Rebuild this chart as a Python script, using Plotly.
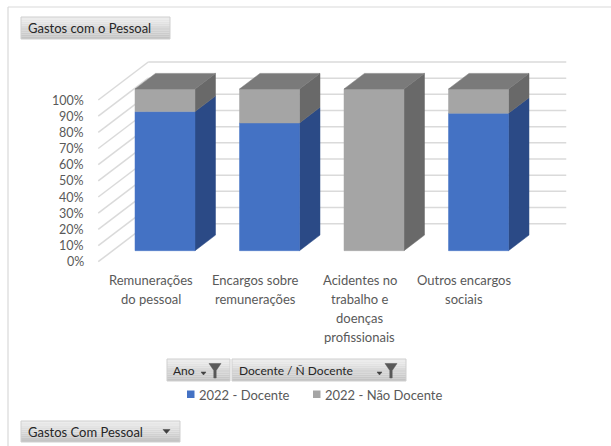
import plotly.graph_objects as go

# ---------------- data ----------------
categories = ["Remunerações\ndo pessoal", "Encargos sobre\nremunerações",
              "Acidentes no\ntrabalho e\ndoenças\nprofissionais", "Outros encargos\nsociais"]
docente = [86, 79, 0, 85]
nao_docente = [14, 21, 100, 15]
series_names = ["2022 - Docente", "2022 - Não Docente"]
y_ticks = [i / 10 for i in range(11)]
y_tick_labels = [f"{i*10}%" for i in range(11)]

# ---------------- styling / geometry ----------------
W, H = 611, 446
FONT = "Lato"
TXT = "#595959"
BLUE, BLUE_SIDE = "#4472C4", "#2B4A86"
GRAY, GRAY_SIDE, GRAY_TOP = "#A5A5A5", "#696969", "#7A7A7A"
GRID = "#DADADA"
DX, DY = 0.4785, 0.235      # full-depth oblique offset in data units
D1, D2 = 0.29, 0.70         # bar front/back depth
BW = 0.574                  # bar width
XR = [-150.5 / 104.5, (W - 150.5) / 104.5]
YR = [(261.7 - H) / 161.7, 261.7 / 161.7]

def px(x):
    return x / W

def py(y):
    return 1 - y / H

fig = go.Figure()

# ---- walls / gridlines ----
gx, gy = [], []
for v in y_ticks:
    gx += [-0.5 + DX, 3.5 + DX, None, -0.5, -0.5 + DX, None]
    gy += [v + DY, v + DY, None, v, v + DY, None]
fig.add_trace(go.Scatter(x=gx, y=gy, mode="lines", line=dict(color=GRID, width=1.5),
                         hoverinfo="skip", showlegend=False))

# ---- bars ----
n = len(categories)
tot = [d + g for d, g in zip(docente, nao_docente)]
fd = [d / t for d, t in zip(docente, tot)]
fg = [g / t for g, t in zip(nao_docente, tot)]

def poly(xs, ys, color):
    fig.add_trace(go.Scatter(x=xs + [xs[0]], y=ys + [ys[0]], mode="lines", fill="toself",
                             fillcolor=color, line=dict(color=color, width=0.5),
                             hoverinfo="skip", showlegend=False))

for i in range(n):
    xl, xr = i - BW / 2, i + BW / 2
    segs = [(0, fd[i], BLUE, BLUE_SIDE), (fd[i], fd[i] + fg[i], GRAY, GRAY_SIDE)]
    for a, b, cf, cs in segs:
        if b - a <= 0:
            continue
        # side face
        poly([xr + D1 * DX, xr + D2 * DX, xr + D2 * DX, xr + D1 * DX],
             [a + D1 * DY, a + D2 * DY, b + D2 * DY, b + D1 * DY], cs)
        # front face
        poly([xl + D1 * DX, xr + D1 * DX, xr + D1 * DX, xl + D1 * DX],
             [a + D1 * DY, a + D1 * DY, b + D1 * DY, b + D1 * DY], cf)
    top = fd[i] + fg[i]
    poly([xl + D1 * DX, xr + D1 * DX, xr + D2 * DX, xl + D2 * DX],
         [top + D1 * DY, top + D1 * DY, top + D2 * DY, top + D2 * DY], GRAY_TOP)

annotations = []
# y tick labels
for v, lab in zip(y_ticks, y_tick_labels):
    annotations.append(dict(x=-0.5, y=v, xref="x", yref="y", text=lab, showarrow=False,
                            xanchor="right", yanchor="middle", xshift=-12,
                            font=dict(family=FONT, size=12.5, color=TXT)))
# category labels
for i, c in enumerate(categories):
    for k, line in enumerate(c.split("\n")):
        annotations.append(dict(x=i, y=0, xref="x", yref="y", text=line, showarrow=False,
                                xanchor="center", yanchor="middle", yshift=-(18.5 + 19 * k),
                                font=dict(family=FONT, size=13, color=TXT)))

shapes = []
# outer border (top + left)
shapes.append(dict(type="line", xref="paper", yref="paper", x0=px(8), y0=py(7), x1=px(W + 2), y1=py(7),
                   line=dict(color="#D9D9D9", width=1.2)))
shapes.append(dict(type="line", xref="paper", yref="paper", x0=px(8), y0=py(7), x1=px(8), y1=py(H + 2),
                   line=dict(color="#D9D9D9", width=1.2)))

def button(x0, y0, x1, y1):
    steps = 10
    for s in range(steps):
        t = s / (steps - 1)
        c = int(236 - 40 * t)
        ya = y0 + (y1 - y0) * s / steps
        yb = y0 + (y1 - y0) * (s + 1) / steps
        shapes.append(dict(type="rect", xref="paper", yref="paper", x0=px(x0), x1=px(x1),
                           y0=py(ya), y1=py(yb), line=dict(width=0),
                           fillcolor=f"rgb({c},{c},{c})", layer="above"))
    shapes.append(dict(type="rect", xref="paper", yref="paper", x0=px(x0), x1=px(x1),
                       y0=py(y0), y1=py(y1), line=dict(color="#CFCFCF", width=1), layer="above"))

def path(points, color):
    d = "M" + " L".join(f"{px(a)},{py(b)}" for a, b in points) + " Z"
    shapes.append(dict(type="path", xref="paper", yref="paper", path=d,
                       fillcolor=color, line=dict(color=color, width=0.5), layer="above"))

def filt(xa):
    # small dropdown arrow + funnel
    path([(xa, 372), (xa + 5, 372), (xa + 2.5, 375)], "#404040")
    xf = xa + 8
    path([(xf, 363.5), (xf + 12, 363.5), (xf + 7.2, 370.5), (xf + 7.2, 378),
          (xf + 4.8, 378), (xf + 4.8, 370.5)], "#595959")

def label(x, y, text, color="#262626", size=12, anchor="left"):
    annotations.append(dict(x=px(x), y=py(y), xref="paper", yref="paper", text=text,
                            showarrow=False, xanchor=anchor, yanchor="middle",
                            font=dict(family=FONT, size=size, color=color)))

# title button
button(21, 17, 170, 39)
label(26, 28, "Gastos com o Pessoal", size=13)
# filter buttons
button(167, 359, 230, 381)
label(171, 370, "Ano")
filt(201)
button(232, 359, 406, 381)
label(237, 370, "Docente / Ñ Docente")
filt(377)
# bottom button
button(21, 421, 180, 442)
label(26, 431.5, "Gastos Com Pessoal", size=13)
path([(163, 429.5), (170, 429.5), (166.5, 433.5)], "#404040")

# legend
leg = [(187, BLUE, series_names[0]), (313, GRAY, series_names[1])]
for xs, col, name in leg:
    shapes.append(dict(type="rect", xref="paper", yref="paper", x0=px(xs), x1=px(xs + 7.5),
                       y0=py(390.5), y1=py(398), fillcolor=col, line=dict(width=0)))
    label(xs + 10, 394.5, name, color=TXT, size=13)

fig.update_layout(
    width=W, height=H, margin=dict(l=0, r=0, t=0, b=0, pad=0),
    paper_bgcolor="white", plot_bgcolor="white",
    xaxis=dict(range=XR, visible=False, fixedrange=True),
    yaxis=dict(range=YR, visible=False, fixedrange=True),
    showlegend=False, annotations=annotations, shapes=shapes,
)
fig.write_html("out.html")
